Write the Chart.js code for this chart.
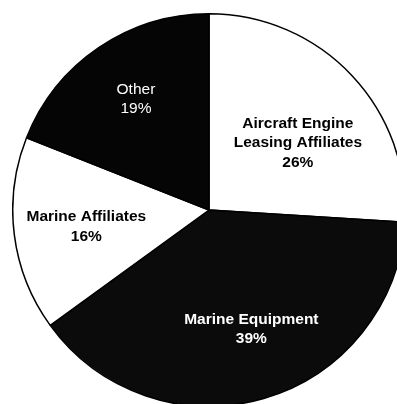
<!DOCTYPE html>
<html>
<head>
<meta charset="utf-8">
<script src="https://cdn.jsdelivr.net/npm/chart.js@4/dist/chart.umd.min.js"></script>
<style>
  html, body { margin: 0; padding: 0; background: #ffffff; overflow: hidden; width: 397px; height: 404px; }
  #wrap { position: absolute; left: 12px; top: 13px; width: 394px; height: 394px; }
</style>
</head>
<body>
<div id="wrap"><canvas id="pie"></canvas></div>
<script>
// Segment breakdown, clockwise from 12 o'clock
const categories = ['Aircraft Engine\nLeasing Affiliates', 'Marine Equipment', 'Marine Affiliates', 'Other'];
const shares = [26, 39, 16, 19];

// Slice fills and the look of each slice's label
const sliceColors = ['#ffffff', '#0b0b0b', '#ffffff', '#050505'];
const labelColors = ['#000000', '#ffffff', '#000000', '#ffffff'];
const labelWeights = ['bold', 'bold', 'bold', 'normal'];
// Where each label sits inside its slice: fraction of radius, and angular nudge (degrees)
const labelRadius = [0.57, 0.64, 0.63, 0.68];
const labelShift = [5.8, -3.5, 0, 1];

const sliceLabels = {
  id: 'sliceLabels',
  afterDatasetsDraw(chart) {
    const ctx = chart.ctx;
    const meta = chart.getDatasetMeta(0);
    meta.data.forEach((arc, i) => {
      const p = arc.getProps(['x', 'y', 'startAngle', 'endAngle', 'outerRadius'], true);
      const mid = (p.startAngle + p.endAngle) / 2 + labelShift[i] * Math.PI / 180;
      const r = p.outerRadius * labelRadius[i];
      const cx = p.x + Math.cos(mid) * r;
      const cy = p.y + Math.sin(mid) * r + 1;
      const lines = categories[i].split('\n').concat([shares[i] + '%']);
      const lh = 19.5;
      ctx.save();
      ctx.fillStyle = labelColors[i];
      ctx.font = labelWeights[i] + ' 15.5px "Liberation Sans", Arial, sans-serif';
      ctx.textAlign = 'center';
      ctx.textBaseline = 'middle';
      const top = cy - (lines.length - 1) * lh / 2;
      lines.forEach((t, k) => ctx.fillText(t, cx, top + k * lh));
      ctx.restore();
    });
  }
};

new Chart(document.getElementById('pie'), {
  type: 'pie',
  data: {
    labels: categories,
    datasets: [{
      data: shares,
      backgroundColor: sliceColors,
      borderColor: '#000000',
      borderWidth: 1.5
    }]
  },
  options: {
    responsive: true,
    maintainAspectRatio: false,
    animation: false,
    layout: { padding: 0 },
    plugins: {
      legend: { display: false },
      tooltip: { enabled: false }
    }
  },
  plugins: [sliceLabels]
});
</script>
</body>
</html>
